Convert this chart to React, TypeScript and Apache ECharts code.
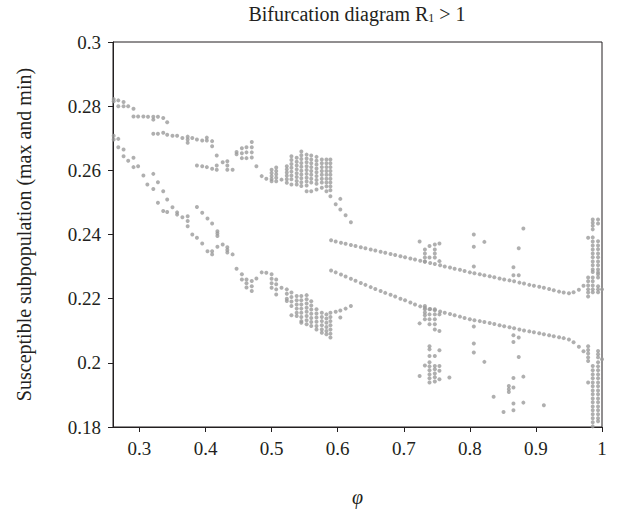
import React, { useEffect, useRef } from "react";
import * as echarts from "echarts";

type Col = [number, number[]];

const titleText = "Bifurcation diagram R{sub|1} > 1";
const yName = "Susceptible subpopulation (max and min)";
const xName = "φ";
const xTicks = [0.3, 0.4, 0.5, 0.6, 0.7, 0.8, 0.9, 1];

// maxima, left part (phi, S values)
const leftMax: Col[] = [
  [0.261, [0.2822, 0.2815]],
  [0.268, [0.2818, 0.28]],
  [0.276, [0.2813, 0.28]],
  [0.283, [0.28]],
  [0.291, [0.2792, 0.2768]],
  [0.298, [0.2768]],
  [0.306, [0.2768]],
  [0.313, [0.2767]],
  [0.321, [0.2767, 0.2758, 0.2714]],
  [0.328, [0.2767, 0.2714]],
  [0.336, [0.2763, 0.2717]],
  [0.342, [0.275, 0.2711]],
  [0.35, [0.2708]],
  [0.357, [0.2708]],
  [0.365, [0.2701]],
  [0.373, [0.2705, 0.2696, 0.2686]],
  [0.38, [0.2701]],
  [0.387, [0.2696, 0.2615]],
  [0.395, [0.2693, 0.2613]],
  [0.402, [0.2702, 0.2693, 0.261]],
  [0.41, [0.2691, 0.2675, 0.2605]],
  [0.417, [0.2646, 0.2615, 0.2602]],
  [0.426, [0.2625]],
  [0.433, [0.2628, 0.2615, 0.2602]],
  [0.441, [0.2602]],
  [0.447, [0.2657, 0.265]],
  [0.455, [0.2669, 0.2653, 0.2638]],
  [0.462, [0.2672, 0.2656, 0.2638]],
  [0.47, [0.2688, 0.2672, 0.2656, 0.264]],
  [0.477, [0.2613]],
  [0.485, [0.2582]],
  [0.492, [0.2574]],
  [0.5, [0.2602, 0.2592, 0.2582, 0.2573, 0.2566]],
  [0.507, [0.2609, 0.2598, 0.2588, 0.2577, 0.2566]],
  [0.515, [0.2571]],
  [0.523, [0.2613, 0.2603, 0.2593, 0.2583, 0.2572, 0.2561]],
  [0.53, [0.2644, 0.2632, 0.262, 0.2608, 0.2596, 0.2584, 0.2572, 0.2556]],
  [0.538, [0.2639, 0.2627, 0.2615, 0.2603, 0.2591, 0.2579, 0.2567, 0.2556]],
  [0.545, [0.2659, 0.2647, 0.2635, 0.2623, 0.2611, 0.2599, 0.2587, 0.2575, 0.2563, 0.2551]],
  [0.553, [0.2649, 0.2637, 0.2625, 0.2613, 0.2601, 0.2589, 0.2577, 0.2565, 0.2553, 0.2535]],
  [0.56, [0.2646, 0.2634, 0.2622, 0.261, 0.2598, 0.2586, 0.2574, 0.2562, 0.2535]],
  [0.568, [0.2642, 0.263, 0.2618, 0.2606, 0.2594, 0.2582, 0.257, 0.2558, 0.254]],
  [0.576, [0.2634, 0.2622, 0.261, 0.2598, 0.2586, 0.2574, 0.2562, 0.2546]],
  [0.583, [0.2634, 0.2622, 0.261, 0.2598, 0.2586, 0.2574, 0.2562, 0.255, 0.2535]],
  [0.589, [0.2634, 0.2622, 0.261, 0.2598, 0.2586, 0.2574, 0.2562, 0.255, 0.2538, 0.2519]],
  [0.597, [0.2494]],
  [0.604, [0.2511, 0.2478]],
  [0.612, [0.246]],
  [0.62, [0.2438]],
];

// minima, left part
const leftMin: Col[] = [
  [0.261, [0.2708, 0.2696]],
  [0.268, [0.2698, 0.2672]],
  [0.276, [0.2665, 0.2644]],
  [0.283, [0.263]],
  [0.291, [0.2639, 0.261]],
  [0.298, [0.2613]],
  [0.306, [0.2584]],
  [0.312, [0.2556]],
  [0.321, [0.2589, 0.2542]],
  [0.328, [0.2563, 0.2499]],
  [0.336, [0.2535, 0.2473]],
  [0.342, [0.2509, 0.247]],
  [0.35, [0.2485]],
  [0.357, [0.2469, 0.2462]],
  [0.365, [0.2454]],
  [0.373, [0.2457, 0.2442, 0.2426]],
  [0.38, [0.24]],
  [0.387, [0.2486, 0.239]],
  [0.395, [0.2468, 0.2372]],
  [0.403, [0.245, 0.2348]],
  [0.41, [0.2434, 0.2348, 0.2338]],
  [0.418, [0.241, 0.2403, 0.2395, 0.2362]],
  [0.426, [0.2369]],
  [0.433, [0.236, 0.2352, 0.2344]],
  [0.441, [0.2338]],
  [0.447, [0.2293]],
  [0.455, [0.2276, 0.226]],
  [0.462, [0.226, 0.2248, 0.2235]],
  [0.47, [0.2255, 0.2239, 0.2224]],
  [0.477, [0.2263]],
  [0.485, [0.2282]],
  [0.492, [0.2281]],
  [0.5, [0.2276, 0.2262, 0.2248, 0.2234]],
  [0.507, [0.226, 0.2245, 0.2229, 0.2213]],
  [0.515, [0.2234]],
  [0.523, [0.2229, 0.2215, 0.22, 0.2193]],
  [0.53, [0.2219, 0.2205, 0.2191, 0.2177, 0.2148]],
  [0.538, [0.2208, 0.2195, 0.2182, 0.2169, 0.2156, 0.2146]],
  [0.545, [0.2208, 0.2195, 0.2182, 0.2169, 0.2156, 0.2143, 0.213, 0.2125]],
  [0.553, [0.2211, 0.2198, 0.2185, 0.2172, 0.2159, 0.2146, 0.2133, 0.212]],
  [0.56, [0.2192, 0.2179, 0.2166, 0.2153, 0.214, 0.2127, 0.2115]],
  [0.568, [0.2167, 0.2154, 0.2141, 0.2128, 0.2115, 0.2104]],
  [0.576, [0.2156, 0.2143, 0.213, 0.2117, 0.2104, 0.2094]],
  [0.583, [0.2151, 0.2138, 0.2125, 0.2112, 0.2099, 0.2089]],
  [0.589, [0.2156, 0.2143, 0.213, 0.2117, 0.2104, 0.2091, 0.2079]],
  [0.597, [0.2159]],
  [0.604, [0.2163, 0.2141]],
  [0.612, [0.2169]],
  [0.62, [0.2177]],
];

// two regular branches (periodic solution: max and min)
const branchPhi = [
  0.59, 0.597, 0.605, 0.612, 0.62, 0.627, 0.635, 0.642, 0.65, 0.657, 0.665, 0.672, 0.68,
  0.687, 0.695, 0.702, 0.71, 0.717, 0.725, 0.732, 0.74, 0.747, 0.755, 0.762, 0.77, 0.777,
  0.785, 0.792, 0.8, 0.807, 0.815, 0.822, 0.83, 0.837, 0.845, 0.852, 0.86, 0.867, 0.875,
  0.882, 0.89, 0.897, 0.905, 0.912, 0.92, 0.927, 0.935, 0.942, 0.95, 0.957, 0.965, 0.972,
];
const branchMax = [
  0.2382, 0.2378, 0.2374, 0.2371, 0.2367, 0.2364, 0.236, 0.2357, 0.2353, 0.235, 0.2346,
  0.2343, 0.2339, 0.2336, 0.2332, 0.2329, 0.2325, 0.2322, 0.2318, 0.2315, 0.2311, 0.2308,
  0.2304, 0.23, 0.2297, 0.2293, 0.229, 0.2286, 0.2282, 0.2279, 0.2276, 0.2273, 0.227,
  0.2267, 0.2263, 0.226, 0.2257, 0.2254, 0.225, 0.2247, 0.2243, 0.224, 0.2237, 0.2234,
  0.223, 0.2226, 0.2222, 0.2219, 0.2217, 0.222, 0.2228, 0.224,
];
const branchMin = [
  0.2288, 0.2282, 0.2275, 0.2269, 0.2262, 0.2256, 0.2249, 0.2243, 0.2236, 0.223, 0.2224,
  0.2218, 0.2212, 0.2207, 0.22, 0.2195, 0.2188, 0.2182, 0.2176, 0.2172, 0.2168, 0.2164,
  0.216, 0.2156, 0.2152, 0.2148, 0.2144, 0.214, 0.2136, 0.2133, 0.213, 0.2127, 0.2124,
  0.2121, 0.2117, 0.2114, 0.2111, 0.2108, 0.2104, 0.2101, 0.2098, 0.2095, 0.2092, 0.2089,
  0.2086, 0.2083, 0.208, 0.2077, 0.2073, 0.2064, 0.205, 0.2036,
];

// scattered (irregular) points
const scatter074: Col[] = [
  [0.724, [0.2378, 0.2123, 0.1959]],
  [0.732, [0.2353, 0.2341, 0.2328, 0.2316, 0.2177, 0.2167, 0.2157, 0.2148, 0.2136, 0.1992]],
  [0.739, [0.2364, 0.2328, 0.2167, 0.2151, 0.2136, 0.212, 0.2052, 0.2042, 0.2021, 0.2002, 0.1989, 0.1977, 0.1964, 0.1952, 0.1939]],
  [0.747, [0.2369, 0.2353, 0.2341, 0.2328, 0.2167, 0.2151, 0.2136, 0.212, 0.2104, 0.2021, 0.199, 0.198, 0.1967, 0.1955, 0.1942]],
  [0.754, [0.2372, 0.2317, 0.2151, 0.2099, 0.2039, 0.199, 0.1975, 0.1949]],
  [0.769, [0.1954]],
];
const scatter080: Col[] = [
  [0.806, [0.24, 0.2362, 0.23, 0.2113, 0.206, 0.2032]],
  [0.822, [0.2377, 0.2003]],
  [0.836, [0.1894]],
  [0.851, [0.1847]],
];
const scatter086: Col[] = [
  [0.859, [0.1928, 0.1918, 0.1909]],
  [0.866, [0.2298, 0.2273, 0.2086, 0.2065, 0.1953, 0.1923, 0.1873, 0.1852]],
  [0.874, [0.2357, 0.2273, 0.2079, 0.2018]],
  [0.881, [0.2419, 0.1957, 0.1876]],
  [0.912, [0.1868]],
];
const scatterEnd: Col[] = [
  [0.979, [0.239, 0.2266, 0.2254, 0.2241, 0.2229, 0.2219, 0.2207, 0.2052, 0.204, 0.2029, 0.2017, 0.2006, 0.1939]],
  [0.986, [0.2447, 0.2437, 0.2427, 0.2416, 0.2391, 0.2378, 0.2366, 0.2353, 0.2341, 0.2329, 0.2316, 0.2304, 0.2291, 0.2283, 0.2266, 0.2254, 0.2241, 0.2229, 0.222, 0.199, 0.1977, 0.1964, 0.1952, 0.1939, 0.1927, 0.1914, 0.1902, 0.1889, 0.1877, 0.1864, 0.1852, 0.184, 0.1827, 0.1815, 0.1802]],
  [0.994, [0.2447, 0.2434, 0.2379, 0.2366, 0.2354, 0.2341, 0.2329, 0.2316, 0.2304, 0.2291, 0.2282, 0.2276, 0.2266, 0.2239, 0.2229, 0.222, 0.2037, 0.2027, 0.2017, 0.2002, 0.1989, 0.1977, 0.1964, 0.1952, 0.1939, 0.1927, 0.1914, 0.1902, 0.1889, 0.1877, 0.1864, 0.1852, 0.184, 0.1827, 0.1818]],
  [1.0, [0.2229, 0.2011]],
];

const FONT = "'Liberation Serif', 'Times New Roman', serif";
const INK = "#231f20";
const DOT = "#9b9b9b";

function flatten(cols: Col[]): number[][] {
  const out: number[][] = [];
  cols.forEach(([phi, vals]) => vals.forEach((s) => out.push([phi, s])));
  return out;
}

export default function App() {
  const ref = useRef<HTMLDivElement>(null);
  useEffect(() => {
    document.body.style.margin = "0";
    const chart = echarts.init(ref.current!, null, { renderer: "svg" });
    const pts = [
      ...flatten(leftMax),
      ...flatten(leftMin),
      ...branchPhi.map((p, i) => [p, branchMax[i]]),
      ...branchPhi.map((p, i) => [p, branchMin[i]]),
      ...flatten(scatter074),
      ...flatten(scatter080),
      ...flatten(scatter086),
      ...flatten(scatterEnd),
    ];
    chart.setOption({
      animation: false,
      backgroundColor: "#ffffff",
      grid: {
        left: 113,
        top: 42,
        right: 19,
        bottom: 86,
        show: true,
        borderColor: INK,
        borderWidth: 1,
        backgroundColor: "transparent",
      },
      graphic: [
        {
          type: "text",
          x: 357,
          y: 14,
          style: {
            text: titleText,
            fill: INK,
            fontFamily: FONT,
            fontSize: 20,
            align: "center",
            verticalAlign: "middle",
            rich: {
              sub: { fontFamily: FONT, fontSize: 12, fill: INK, verticalAlign: "bottom" },
            },
          },
        },
      ],
      xAxis: {
        type: "value",
        min: 0.26,
        max: 1,
        name: xName,
        nameLocation: "middle",
        nameGap: 60,
        nameTextStyle: { fontFamily: FONT, fontStyle: "italic", fontSize: 20, color: INK },
        axisLine: { show: true, lineStyle: { color: INK, width: 1 } },
        axisTick: { show: true, length: 5, customValues: xTicks, lineStyle: { color: INK } },
        axisLabel: {
          customValues: xTicks,
          formatter: (v: number) => String(parseFloat(Number(v).toFixed(2))),
          fontFamily: FONT,
          fontSize: 19,
          color: INK,
          margin: 12,
        },
        splitLine: { show: false },
      },
      yAxis: {
        type: "value",
        min: 0.18,
        max: 0.3,
        interval: 0.02,
        name: yName,
        nameLocation: "middle",
        nameGap: 79,
        nameTextStyle: { fontFamily: FONT, fontSize: 20, color: INK },
        axisLine: { show: true, lineStyle: { color: INK, width: 1 } },
        axisTick: { show: true, length: 5, lineStyle: { color: INK } },
        axisLabel: {
          formatter: (v: number) => String(parseFloat(Number(v).toFixed(2))),
          fontFamily: FONT,
          fontSize: 19,
          color: INK,
          margin: 12,
        },
        splitLine: { show: false },
      },
      series: [
        {
          type: "scatter",
          data: pts,
          symbol: "circle",
          symbolSize: 4,
          itemStyle: { color: DOT },
          silent: true,
        },
      ],
    });
    return () => chart.dispose();
  }, []);
  return <div ref={ref} style={{ width: 621, height: 513 }} />;
}
